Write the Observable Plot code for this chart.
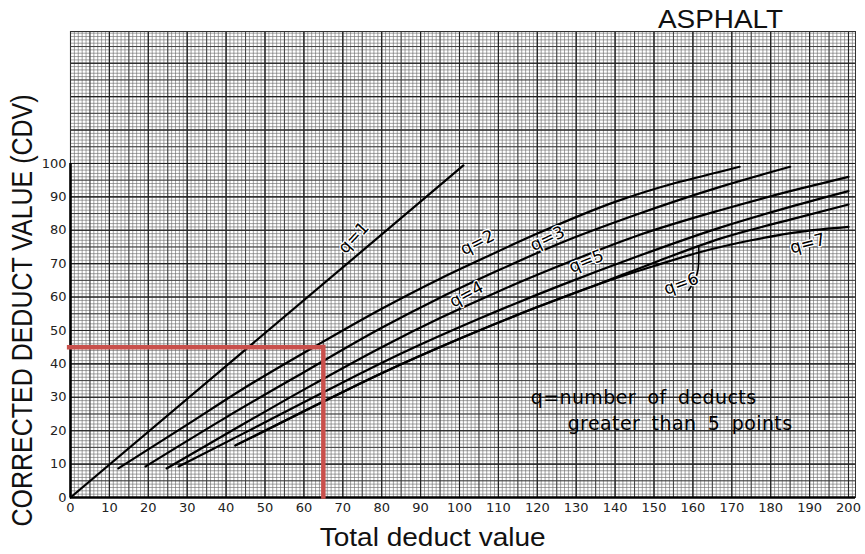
<!DOCTYPE html>
<html>
<head>
<meta charset="utf-8">
<script src="https://cdn.jsdelivr.net/npm/d3@7"></script>
<script src="https://cdn.jsdelivr.net/npm/@observablehq/plot@0.6"></script>
<style>
  html, body { margin: 0; padding: 0; background: #fff; }
  .annot text { word-spacing: 5px; letter-spacing: 0.4px; }
</style>
</head>
<body>
<div id="chart"></div>
<script>
// ---- tick labels ----
const tdvTicks = [0,10,20,30,40,50,60,70,80,90,100,110,120,130,140,150,160,170,180,190,200];
const cdvTicks = [0,10,20,30,40,50,60,70,80,90,100];

// ---- curves: [total deduct value, corrected deduct value] ----
const curveQ1 = [[0,0],[101,99.4]];
const curveQ2 = [[12.3,8.7],[30,21.8],[45,33],[62.5,45],[80,56.5],[95,65.5],[105,71],[120,79],[140,88.5],[155,94],[167,97.5],[172,99]];
const curveQ3 = [[19.3,9.3],[40,24],[60,37.5],[80,50.8],[95,59.8],[110,68],[126,76.2],[145,84.5],[167,93],[185,99]];
const curveQ4 = [[24.7,8.7],[40,19],[60,32.3],[80,45],[95,53.7],[110,61.7],[126,69.5],[146,78.5],[167,86],[185,91.7],[200,96]];
const curveQ5 = [[27.8,9.3],[45,19.5],[65,31.5],[85,43.1],[105,53.5],[126,63.5],[146,72.3],[167,80.8],[185,87],[200,91.7]];
const curveQ6 = [[42.4,15.6],[60,25.8],[80,37.2],[100,47.5],[120,57],[136,64],[150,70.3],[167,77.5],[185,83.2],[200,87.7]];
const curveQ7 = [[42.4,15.6],[60,25.8],[80,37.2],[100,47.5],[120,57],[136,64],[150,69.3],[162,73.5],[175,77],[188,79.6],[200,81]];
const leaderQ6 = [[158.9,62],[161.2,67.5],[161.5,75.3]];

// ---- curve labels ----
const labelText = ["q=1","q=2","q=3","q=4","q=5","q=6","q=7"];
const labelX    = [72.8, 104.6, 122.6, 101.8, 132.6, 157, 189.5];
const labelY    = [77.8, 76.3, 77.5, 60.8, 70.7, 64, 76];
const labelRot  = [-47, -27, -25, -28, -22, -20, -15];

// ---- worked example ----
const exampleTDV = 65;
const exampleCDV = 45;

const curves = [curveQ1, curveQ2, curveQ3, curveQ4, curveQ5, curveQ6, curveQ7];
const labels = labelText.map((t, i) => ({t, x: labelX[i], y: labelY[i], r: labelRot[i]}));

const xMax = 201.8, yMax = 139.5;
const fineX = d3.range(0, 202, 1), fineY = d3.range(0, 140, 1);
const midX = d3.range(0, 202, 5), midY = d3.range(0, 140, 5);
const majX = d3.range(0, 202, 10), majY = d3.range(0, 140, 10);

const chart = Plot.plot({
  width: 865,
  height: 554,
  marginLeft: 70,
  marginRight: 10,
  marginTop: 31,
  marginBottom: 57,
  x: {domain: [0, xMax]},
  y: {domain: [0, yMax]},
  style: {background: "#fff", fontFamily: "DejaVu Sans", color: "#111"},
  marks: [
    Plot.ruleX(fineX, {stroke: "#6e6e6e", strokeWidth: 0.65}),
    Plot.ruleY(fineY, {stroke: "#6e6e6e", strokeWidth: 0.65}),
    Plot.ruleX(midX, {stroke: "#3a3a3a", strokeWidth: 0.9}),
    Plot.ruleY(midY, {stroke: "#3a3a3a", strokeWidth: 0.9}),
    Plot.ruleX(majX, {stroke: "#222", strokeWidth: 1.1}),
    Plot.ruleY(majY, {stroke: "#222", strokeWidth: 1.1}),
    Plot.frame({stroke: "#333", strokeWidth: 1}),
    // axes lines
    Plot.ruleX([0], {y1: 0, y2: 100, stroke: "#000", strokeWidth: 2.6}),
    Plot.ruleY([0], {x1: 0, x2: xMax, stroke: "#000", strokeWidth: 2.6}),
    Plot.axisX(tdvTicks, {tickSize: 0, tickPadding: 5, fontSize: 13, label: null, fill: "#222"}),
    Plot.axisY(cdvTicks, {tickSize: 0, tickPadding: 4, fontSize: 13, label: null, fill: "#222"}),
    // curves
    ...curves.map(c => Plot.line(c, {x: d => d[0], y: d => d[1], stroke: "#000", strokeWidth: 2.2, curve: "monotone-x"})),
    Plot.line(leaderQ6, {x: d => d[0], y: d => d[1], stroke: "#000", strokeWidth: 1.6, curve: "natural"}),
    Plot.text(labels, {x: "x", y: "y", text: "t", rotate: "r", fontSize: 17, fill: "#000", stroke: "#fff", strokeWidth: 2.5, paintOrder: "stroke"}),
    // worked example
    Plot.ruleY([exampleCDV], {x1: -0.8, x2: exampleTDV + 0.4, stroke: "#c9504c", strokeWidth: 4.5}),
    Plot.ruleX([exampleTDV], {y1: exampleCDV + 0.6, y2: -0.5, stroke: "#c9504c", strokeWidth: 4.5}),
    // annotation
    Plot.text(["q=number of deducts"], {x: 118.3, y: 29.9, text: d => d, textAnchor: "start", fontSize: 19, fill: "#000", className: "annot"}),
    Plot.text(["greater than 5 points"], {x: 127.8, y: 21.9, text: d => d, textAnchor: "start", fontSize: 19, fill: "#000", className: "annot"}),
    // titles
    Plot.text(["ASPHALT"], {x: 167.1, y: 143.1, text: d => d, fontSize: 26, fontFamily: "Liberation Sans", fill: "#111", className: "ttl"}),
    Plot.text(["CORRECTED DEDUCT VALUE (CDV)"], {x: -12.3, y: 56, text: d => d, rotate: -90, fontSize: 30, fontFamily: "Liberation Sans", fill: "#111", className: "ytitle"}),
    Plot.text(["Total deduct value"], {x: 93.1, y: -12, text: d => d, fontSize: 25, fontFamily: "Liberation Sans", fill: "#111", className: "xtitle"})
  ]
});
const sel = d3.select(chart);
sel.select(".ytitle text").attr("textLength", 432).attr("lengthAdjust", "spacingAndGlyphs");
sel.select(".xtitle text").attr("textLength", 226).attr("lengthAdjust", "spacingAndGlyphs");
sel.select(".ttl text").attr("textLength", 125).attr("lengthAdjust", "spacingAndGlyphs");
document.getElementById("chart").appendChild(chart);
</script>
</body>
</html>
